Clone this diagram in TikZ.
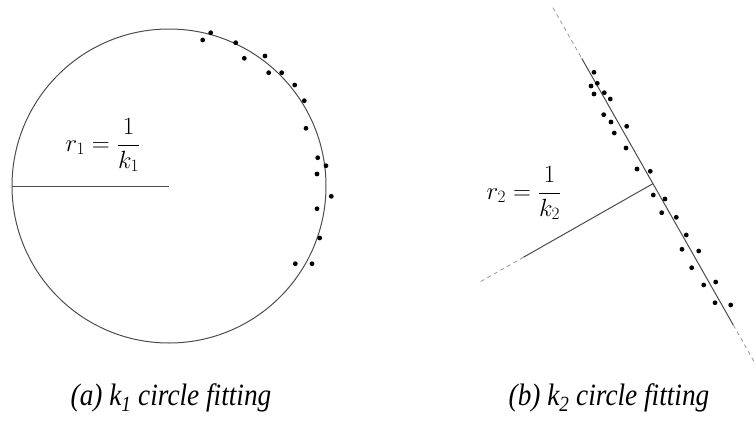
\documentclass[tikz,border=0pt]{standalone}
\usepackage{fontspec}
\setmainfont{Liberation Serif}
\usetikzlibrary{calc}

\begin{document}
\begin{tikzpicture}[
    x=1pt, y=-1pt,
    fitline/.style={draw=black!70, line width=1pt},
    extline/.style={draw=black!40, dash pattern=on 4pt off 3.5pt, line width=0.8pt},
    sample/.style={circle, fill=black, inner sep=0pt, minimum size=4.8pt},
    formula/.style={font=\fontsize{26}{30}\selectfont},
    caption/.style={font=\fontsize{31}{33}\selectfont\itshape, xscale=0.88}
  ]
  \useasboundingbox (0,0) rectangle (756,421);

  % (a) circle through the samples
  \coordinate (c1) at (169,186);
  \coordinate (w1) at ($(c1)+(-157,0)$);
  \draw[fitline] (c1) circle[radius=157];
  \draw[fitline] (w1) -- (c1);
  \node[formula] (r1) at (103,145) {$\displaystyle r_1=\frac{1}{k_1}$};
  \foreach \px/\py [count=\i] in {210.7/32.7, 202.7/40, 235.7/42.7, 244.3/58.3, 265/56,
      268.7/72.7, 281.7/72.7, 294.7/85, 304.3/100.7, 306/128.3, 317.7/157.7,
      326/165.7, 317/174, 331.3/196.3, 317/208.7, 319.7/238, 295.3/263.7, 312/263.7}
    \node[sample] (a\i) at (\px,\py) {};
  \node[caption] (capa) at (171,398) {(a) k\textsubscript{1} circle fitting};

  % (b) nearly straight samples
  \coordinate (p) at (581.7,58.3);
  \coordinate (q) at (733.3,325);
  \coordinate (f) at ($(p)!0.47!(q)$);
  \coordinate (g) at ($(f)!149pt!-90:(q)$);
  \coordinate (h) at ($(f)!199pt!-90:(q)$);
  \draw[fitline] (p) -- (q);
  \draw[extline] ($(p)!-0.19!(q)$) -- (p);
  \draw[extline] (q) -- ($(q)!-0.14!(p)$);
  \draw[fitline] (f) -- (g);
  \draw[extline] (g) -- (h);
  \node[formula] (r2) at (524,193) {$\displaystyle r_2=\frac{1}{k_2}$};
  \foreach \px/\py [count=\i] in {594/72.3, 591/86, 597.3/83.3, 594/94, 604.3/92.7,
      610.3/99, 603.7/114.7, 611/122, 626.7/126.3, 614.3/133, 626/148, 637/169,
      650.3/171.3, 653.3/195, 665/199, 661.7/212.7, 676.3/217.3, 686.3/235,
      682/249.3, 698.7/251, 691.7/267.7, 703.7/285, 715.7/282, 715/302.7, 730.7/305}
    \node[sample] (b\i) at (\px,\py) {};
  \node[caption] (capb) at (609,398) {(b) k\textsubscript{2} circle fitting};
\end{tikzpicture}
\end{document}
